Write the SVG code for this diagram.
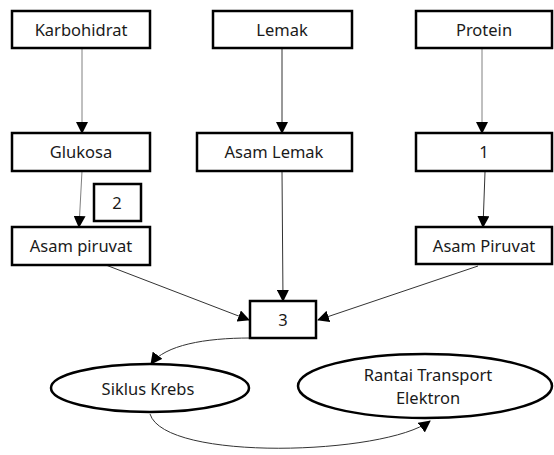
<svg xmlns="http://www.w3.org/2000/svg" width="554" height="455" viewBox="0 0 554 455">
<defs>
<marker id="ah" markerUnits="userSpaceOnUse" markerWidth="12" markerHeight="12" viewBox="0 0 12 12" refX="11" refY="6" orient="auto">
<path d="M0,0 L12,6 L0,12 Z" fill="#000"/>
</marker>
</defs>
<style>
.box{fill:#fff;stroke:#000;stroke-width:2.5}
.ell{fill:#fff;stroke:#000;stroke-width:2.5}
.t{font-family:"Noto Sans","Liberation Sans",sans-serif;font-size:16.5px;fill:#1a1a1a;text-anchor:middle}
.c{fill:none;stroke:#333;stroke-width:1;marker-end:url(#ah)}
</style>
<g id="connectors">
<path class="c" d="M82,48 L82,133" style="stroke:#808080"/>
<path class="c" d="M282,48 L282,133"/>
<path class="c" d="M482,48 L482,133" style="stroke:#808080"/>
<path class="c" d="M82,171 L79,227" style="stroke:#808080"/>
<path class="c" d="M485,172 L483,227"/>
<path class="c" d="M282,171 L283,301"/>
<path class="c" d="M85,257 L249,320"/>
<path class="c" d="M478,266 L318,320"/>
<path class="c" d="M250,338 C205,338 165,345 151,364"/>
<path class="c" d="M150,414 C165,462 385,455 430,421"/>
</g>
<g id="karbohidrat"><rect class="box" x="12" y="11" width="138" height="37"/><text class="t" x="81" y="36">Karbohidrat</text></g>
<g id="lemak"><rect class="box" x="213" y="11" width="139" height="37"/><text class="t" x="282" y="36">Lemak</text></g>
<g id="protein"><rect class="box" x="416" y="11" width="136" height="37"/><text class="t" x="484" y="36">Protein</text></g>
<g id="glukosa"><rect class="box" x="12" y="133" width="138" height="38"/><text class="t" x="81" y="158">Glukosa</text></g>
<g id="asam-lemak"><rect class="box" x="197" y="133" width="155" height="38"/><text class="t" x="274" y="158">Asam Lemak</text></g>
<g id="n1"><rect class="box" x="416" y="133" width="136" height="38"/><text class="t" x="484" y="158">1</text></g>
<g id="n2"><rect class="box" x="94" y="184" width="47" height="37"/><text class="t" x="117" y="209">2</text></g>
<g id="asam-piruvat-l"><rect class="box" x="12" y="227" width="138" height="38"/><text class="t" x="81" y="252">Asam piruvat</text></g>
<g id="asam-piruvat-r"><rect class="box" x="416" y="227" width="136" height="37"/><text class="t" x="484" y="252">Asam Piruvat</text></g>
<g id="n3"><rect class="box" x="250" y="301" width="66" height="37"/><text class="t" x="283" y="326">3</text></g>
<g id="siklus-krebs"><ellipse class="ell" cx="150" cy="388" rx="99" ry="24"/><text class="t" x="148" y="395">Siklus Krebs</text></g>
<g id="rte"><ellipse class="ell" cx="425" cy="386" rx="127" ry="32"/><text class="t" x="428" y="381">Rantai Transport</text><text class="t" x="428" y="404">Elektron</text></g>
</svg>
